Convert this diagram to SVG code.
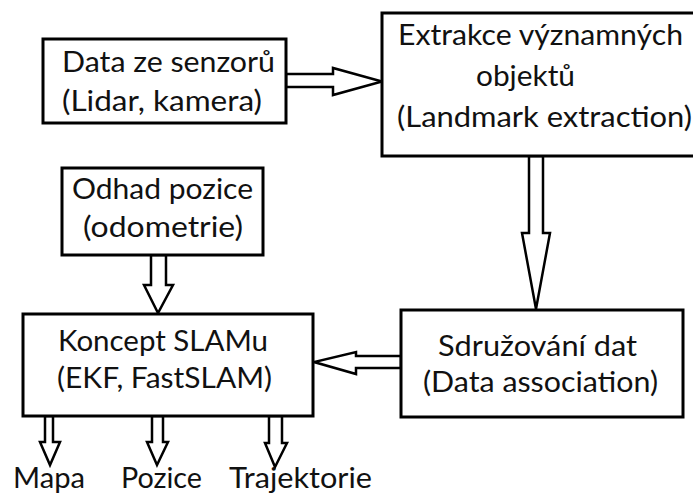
<svg xmlns="http://www.w3.org/2000/svg" width="693" height="494" viewBox="0 0 693 494">
<style>
.box{fill:#fff;stroke:#000;stroke-width:3}
.arr{fill:#fff;stroke:#000;stroke-width:2.5;stroke-linejoin:miter}
text{font-family:Lato,"Open Sans","Liberation Sans",sans-serif;font-size:28px;fill:#111}
</style>
<rect width="693" height="494" fill="#fff"/>
<g id="connectors">
<polygon class="arr" points="286,74 333,74 333,68 382,81.5 333,95 333,87 286,87"/>
<polygon class="arr" points="529,156 529,233 522,233 536,309 550,233 543,233 543,156"/>
<polygon class="arr" points="151,255 151,285 144,285 158,313 173,285 166,285 166,255"/>
<polygon class="arr" points="401,356 356,356 356,352 314,362 356,374 356,368 401,368"/>
<polygon class="arr" points="45,416 45,442 40,442 50,465 60,442 53,442 53,416"/>
<polygon class="arr" points="152,416 152,442 147,442 157,465 168,442 163,442 163,416"/>
<polygon class="arr" points="269,416 269,443 265,443 275,467 287,443 282,443 282,416"/>
</g>
<g id="senzory">
<rect class="box" x="43" y="39" width="243" height="84"/>
<text x="62" y="72" textLength="213" lengthAdjust="spacingAndGlyphs">Data ze senzorů</text>
<text x="62" y="111" textLength="200" lengthAdjust="spacingAndGlyphs">(Lidar, kamera)</text>
</g>
<g id="extrakce">
<rect class="box" x="382" y="13" width="320" height="143"/>
<text x="398" y="45" textLength="285" lengthAdjust="spacingAndGlyphs">Extrakce významných</text>
<text x="476" y="86" textLength="99" lengthAdjust="spacingAndGlyphs">objektů</text>
<text x="397" y="127" textLength="295" lengthAdjust="spacingAndGlyphs">(Landmark extraction)</text>
</g>
<g id="odhad">
<rect class="box" x="62" y="168" width="201" height="87"/>
<text x="72" y="199" textLength="181" lengthAdjust="spacingAndGlyphs">Odhad pozice</text>
<text x="83" y="237" textLength="160" lengthAdjust="spacingAndGlyphs">(odometrie)</text>
</g>
<g id="slam">
<rect class="box" x="23" y="314" width="290" height="102"/>
<text x="58" y="351" textLength="210" lengthAdjust="spacingAndGlyphs">Koncept SLAMu</text>
<text x="57" y="388" textLength="215" lengthAdjust="spacingAndGlyphs">(EKF, FastSLAM)</text>
</g>
<g id="asociace">
<rect class="box" x="401" y="310" width="282" height="107"/>
<text x="438" y="356" textLength="199" lengthAdjust="spacingAndGlyphs">Sdružování dat</text>
<text x="423" y="392" textLength="235" lengthAdjust="spacingAndGlyphs">(Data association)</text>
</g>
<g id="mapa"><text x="13" y="488" textLength="72" lengthAdjust="spacingAndGlyphs">Mapa</text></g>
<g id="pozice"><text x="121" y="488" textLength="81" lengthAdjust="spacingAndGlyphs">Pozice</text></g>
<g id="trajektorie"><text x="229" y="488" textLength="143" lengthAdjust="spacingAndGlyphs">Trajektorie</text></g>
</svg>
